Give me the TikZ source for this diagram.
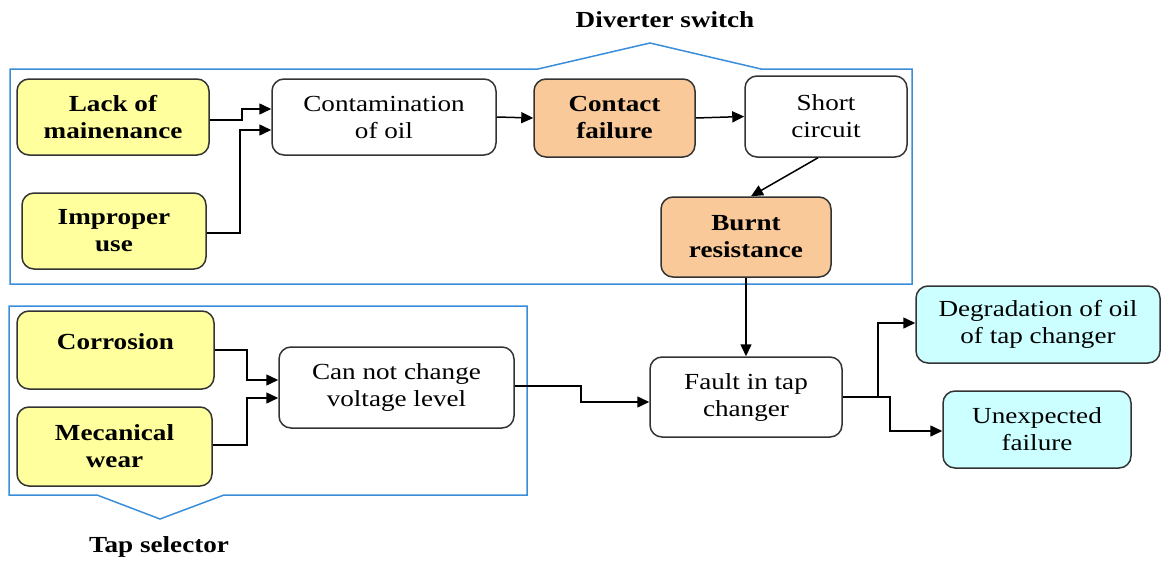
\documentclass[tikz,border=0pt]{standalone}
\usepackage{fontspec}
\setmainfont{Liberation Serif}[FakeStretch=1.18]
\usetikzlibrary{arrows.meta}
\definecolor{ylw}{HTML}{FFFF9E}
\definecolor{org}{HTML}{FAC99A}
\definecolor{cyn}{HTML}{CCFFFF}
\definecolor{frm}{HTML}{3A8DD8}
\definecolor{bd}{HTML}{333333}
\begin{document}
\begin{tikzpicture}[x=1pt,y=-1pt,
  box/.style={draw=bd, line width=1.5pt, rounded corners=12pt, align=center, inner sep=0pt,
    font=\fontsize{23}{27}\selectfont},
  cause/.style={box, fill=ylw, font=\fontsize{23}{27}\selectfont\bfseries},
  fail/.style={box, fill=org, font=\fontsize{23}{27}\selectfont\bfseries},
  effect/.style={box, fill=cyn},
  plain/.style={box, fill=white},
  frame/.style={draw=frm, line width=1.5pt},
  title/.style={font=\fontsize{23}{27}\selectfont\bfseries},
  arr/.style={draw=black, line width=1.5pt, -{Triangle[length=12pt,width=11pt]}}
]
\useasboundingbox (0,0) rectangle (1161,562);
% frames
\draw[frame] (10,69) -- (538,69) -- (650,43) -- (761,69) -- (912,69) -- (912,284) -- (10,284) -- cycle;
\draw[frame] (9,306) -- (527,306) -- (527,495) -- (224,495) -- (160,519) -- (97,495) -- (9,495) -- cycle;
\node[title] (tdiv) at (665,20) {Diverter switch};
\node[title] (ttap) at (159,547) {Tap selector};
% nodes
\node[cause, minimum width=192pt, minimum height=76pt] (lack) at (113,117) {Lack of\\mainenance};
\node[cause, minimum width=184pt, minimum height=76pt] (improper) at (114,231) {Improper\\use};
\node[plain, minimum width=224pt, minimum height=76pt] (contam) at (384,117) {Contamination\\of oil};
\node[fail, minimum width=161pt, minimum height=78pt] (contact) at (614.5,118) {Contact\\failure};
\node[plain, minimum width=162pt, minimum height=81pt] (short) at (826,116.5) {Short\\circuit};
\node[fail, minimum width=170pt, minimum height=80pt] (burnt) at (746,237) {Burnt\\resistance};
\node[cause, minimum width=197pt, minimum height=78pt] (corr) at (115.5,350) {};
\node[font=\fontsize{23}{27}\selectfont\bfseries, inner sep=0pt] (corrtext) at (115.5,342) {Corrosion};
\node[cause, minimum width=195pt, minimum height=79pt] (mec) at (114.5,446.5) {Mecanical\\wear};
\node[plain, minimum width=235pt, minimum height=81pt] (cannot) at (396.5,387.5) {Can not change\\voltage level};
\node[plain, minimum width=192pt, minimum height=80pt] (fault) at (746,397) {Fault in tap\\changer};
\node[effect, minimum width=244pt, minimum height=77pt] (degr) at (1038,324.5) {Degradation of oil\\of tap changer};
\node[effect, minimum width=188pt, minimum height=77pt] (unexp) at (1037,429.5) {Unexpected\\failure};
% connectors
\draw[arr] (lack.east |- 0,120) -| (242,109) -- (contam.west |- 0,109);
\draw[arr] (improper.east |- 0,233) -| (240,130) -- (contam.west |- 0,130);
\draw[arr] (contam.east) -- (contact.west);
\draw[arr] (contact.east) -- (short.west);
\draw[arr] ([xshift=-8pt]short.south) -- ([xshift=5pt]burnt.north);
\draw[arr] (burnt.south) -- (fault.north);
\draw[arr] (corr.east) -| (247,380) -- (cannot.west |- 0,380);
\draw[arr] (mec.east |- 0,445) -| (247,398) -- (cannot.west |- 0,398);
\draw[arr] (cannot.east |- 0,386) -| (581,402) -- (fault.west |- 0,402);
\draw[arr] (fault.east) -| (878,323) -- (degr.west |- 0,323);
\draw[arr] (fault.east) -| (890,431) -- (unexp.west |- 0,431);
\end{tikzpicture}
\end{document}
